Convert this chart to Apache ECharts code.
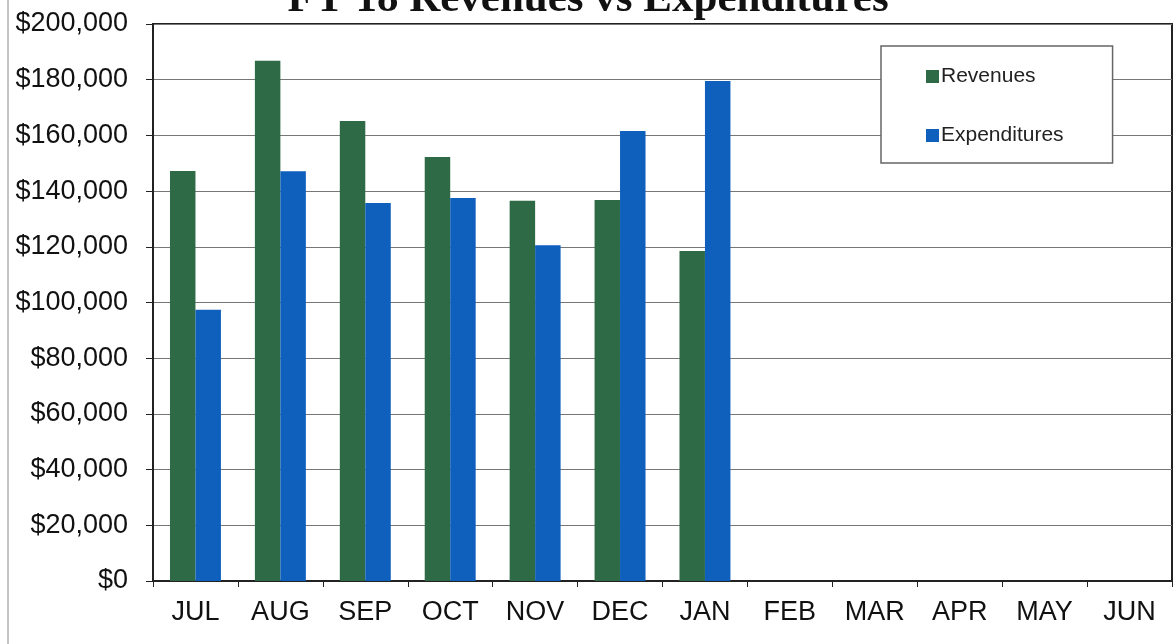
<!DOCTYPE html>
<html><head><meta charset="utf-8">
<script src="https://cdn.jsdelivr.net/npm/echarts@6/dist/echarts.min.js"></script>
<style>html,body{margin:0;padding:0;background:#fff}#c{width:1176px;height:644px}</style>
</head><body><div id="c"></div>
<script>
const months = ['JUL','AUG','SEP','OCT','NOV','DEC','JAN','FEB','MAR','APR','MAY','JUN'];
const revenues = [147200, 186800, 165200, 152200, 136500, 136800, 118500, null, null, null, null, null];
const expenditures = [97400, 147100, 135700, 137500, 120600, 161600, 179500, null, null, null, null, null];
const chart = echarts.init(document.getElementById('c'));
chart.setOption({
  animation: false,
  backgroundColor: '#fff',
  title: {
    text: 'FY 18 Revenues vs Expenditures',
    left: 'center', top: -27,
    textStyle: {fontFamily: 'Liberation Serif', fontWeight: 'bold', fontSize: 43, color: '#111'}
  },
  legend: {
    orient: 'vertical', left: 881, top: 46,
    backgroundColor: '#fff', borderColor: '#666', borderWidth: 1.5,
    padding: [20, 49, 17, 45], itemGap: 38,
    itemWidth: 13, itemHeight: 13, icon: 'rect',
    textStyle: {fontFamily: 'Liberation Sans', fontSize: 21, color: '#222', padding: [0, 0, 0, -3]},
    data: ['Revenues', 'Expenditures']
  },
  grid: {left: 153, right: 4, top: 24, bottom: 63, show: true, borderColor: '#222', borderWidth: 2},
  xAxis: {
    type: 'category', data: months,
    axisLine: {lineStyle: {color: '#222', width: 2}},
    axisTick: {show: true, length: 6, lineStyle: {color: '#222'}},
    axisLabel: {fontFamily: 'Liberation Sans', fontSize: 27, color: '#111', margin: 18}
  },
  yAxis: {
    type: 'value', min: 0, max: 200000, interval: 20000,
    axisLine: {show: true, lineStyle: {color: '#222', width: 2}},
    axisTick: {show: true, length: 7, lineStyle: {color: '#222'}},
    splitLine: {lineStyle: {color: '#777', width: 1.2}},
    axisLabel: {fontFamily: 'Liberation Sans', fontSize: 27, color: '#111', margin: 25,
      formatter: v => '$' + v.toLocaleString('en-US')}
  },
  series: [
    {name: 'Revenues', type: 'bar', data: revenues, barGap: '0%', barCategoryGap: '40%',
     itemStyle: {color: '#2e6a45'}},
    {name: 'Expenditures', type: 'bar', data: expenditures,
     itemStyle: {color: '#0f5fbd'}}
  ],
  graphic: [{type: 'line', shape: {x1: 8, y1: 0, x2: 8, y2: 644}, style: {stroke: '#888', lineWidth: 1}}]
});
</script></body></html>
